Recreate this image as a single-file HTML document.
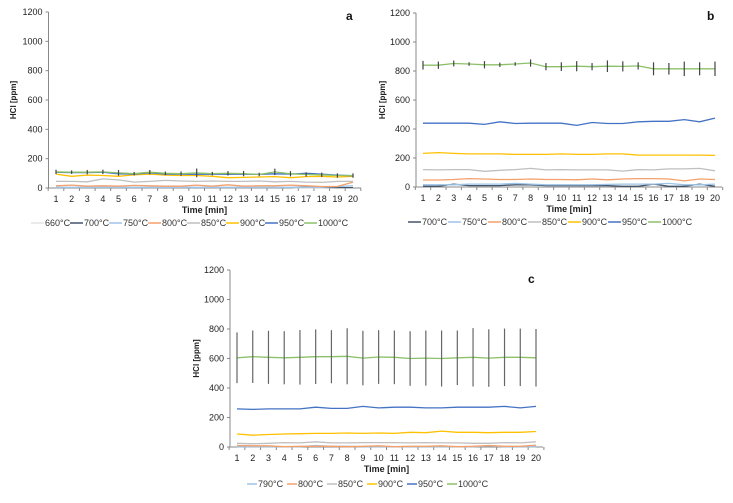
<!DOCTYPE html>
<html><head><meta charset="utf-8"><style>
body{margin:0;background:#fff;width:733px;height:498px;overflow:hidden}
svg{font-family:"Liberation Sans",sans-serif}
</style></head><body>
<svg id="svg" width="733" height="498"></svg>
<script>
const categories=[1,2,3,4,5,6,7,8,9,10,11,12,13,14,15,16,17,18,19,20];
const yTicks=[0,200,400,600,800,1000,1200];
const colors={"660°C":"#e3e3e3","700°C":"#44546a","750°C":"#9dc3e6","790°C":"#9dc3e6","800°C":"#f4a06b","850°C":"#bfbfbf","900°C":"#ffc000","950°C":"#4472c4","1000°C":"#8cc168"};
// chart a
const aNames=["660°C","700°C","750°C","800°C","850°C","900°C","950°C","1000°C"];
const a660=[2,2,2,2,2,2,2,2,2,2,2,2,2,2,2,2,2,2,2,2];
const a700=[3,3,3,3,3,3,3,3,3,3,3,3,3,3,3,3,8,5,3,3];
const a750=[5,5,5,5,5,5,5,5,5,5,5,5,5,5,5,5,5,5,10,15];
const a800=[15,20,12,15,12,18,15,12,12,20,12,22,12,15,15,20,15,10,10,40];
const a850=[45,45,42,62,55,40,45,52,48,45,48,45,45,48,42,45,40,38,45,45];
const a900=[95,80,88,85,80,90,95,88,85,85,80,70,72,75,78,70,78,80,75,80];
const a950=[108,105,105,108,97,95,103,95,95,93,95,93,95,93,97,95,100,95,88,83];
const a1000=[110,108,108,110,103,98,108,100,98,103,98,100,98,92,110,97,92,90,85,85];
const aErr=[15,12,15,15,20,12,15,12,15,30,12,15,18,12,22,18,15,15,15,15];
// chart b
const bNames=["700°C","750°C","800°C","850°C","900°C","950°C","1000°C"];
const b700=[5,5,20,10,10,10,15,15,10,10,10,10,10,5,5,20,5,5,20,5];
const b750=[15,15,15,20,20,20,25,20,15,15,15,15,18,20,20,20,25,15,15,20];
const b800=[48,48,52,58,55,52,52,55,52,52,50,55,50,55,58,58,55,42,55,52];
const b850=[120,118,120,120,108,115,120,128,118,120,118,118,118,110,120,118,125,125,128,112];
const b900=[232,237,232,228,228,228,225,225,225,228,225,225,228,228,220,220,220,220,220,218];
const b950=[440,440,440,440,432,450,438,440,440,440,425,445,438,438,450,453,453,465,450,475];
const b1000=[840,840,852,848,843,843,848,855,830,830,833,830,833,832,835,815,815,815,815,815];
const bErr=[30,25,20,12,25,15,12,25,25,30,35,25,40,35,25,45,40,50,45,50];
// chart c
const cNames=["790°C","800°C","850°C","900°C","950°C","1000°C"];
const c790=[2,2,2,2,2,10,5,5,2,2,2,2,2,2,2,2,8,2,2,2];
const c800=[10,8,8,2,5,5,5,2,5,8,2,5,5,8,2,5,10,5,5,12];
const c850=[25,22,25,30,28,35,28,28,30,30,30,28,30,28,28,25,25,30,28,35];
const c900=[88,80,85,88,90,92,92,95,92,95,92,100,97,108,100,100,97,100,100,105];
const c950=[258,255,258,258,258,270,262,262,275,265,270,270,265,265,270,270,270,275,265,275];
const c1000=[605,612,608,605,608,612,612,615,603,610,608,600,603,600,605,608,603,608,608,605];
const cErr=[172,178,180,180,185,185,180,190,185,182,182,185,187,190,185,198,195,195,195,195];

const NS="http://www.w3.org/2000/svg";
const svg=document.getElementById('svg');
function mk(t,at,p){const e=document.createElementNS(NS,t);for(const k in at)e.setAttribute(k,at[k]);(p||svg).appendChild(e);return e;}
function chart(id,cfg){
  const g=mk('g',{});
  
  
  const x0=cfg.ax,x1=cfg.axEnd,yT=cfg.yTop,yB=cfg.y0;
  const sx=i=>cfg.c1+(cfg.c20-cfg.c1)*i/19;
  const sy=v=>yB-(yB-yT)*v/1200;
  const step=(cfg.c20-cfg.c1)/19;
  mk('line',{x1:x0,y1:yT,x2:x0,y2:yB,stroke:'#888','stroke-width':1},g);
  mk('line',{x1:x0,y1:yB,x2:x1,y2:yB,stroke:'#888','stroke-width':1},g);
  yTicks.forEach(v=>{
    mk('line',{x1:x0-3,y1:sy(v),x2:x0,y2:sy(v),stroke:'#888'},g);
    const t=mk('text',{x:x0-6,y:sy(v)+3,'font-size':9,'text-anchor':'end',fill:'#222'},g);t.textContent=v;
    
    
  });
  categories.forEach((c,i)=>{
    mk('line',{x1:sx(i)-step/2,y1:yB,x2:sx(i)-step/2,y2:yB+3,stroke:'#888'},g);
    const t=mk('text',{x:sx(i),y:yB+14,'font-size':9,'text-anchor':'middle',fill:'#222'},g);t.textContent=c;
    
    
  });
  mk('line',{x1:sx(19)+step/2,y1:yB,x2:sx(19)+step/2,y2:yB+3,stroke:'#888'},g);
  const xt=mk('text',{x:(cfg.c1+cfg.c20)/2,y:yB+25,'font-size':9,'font-weight':'bold','text-anchor':'middle',fill:'#222'},g);xt.textContent='Time [min]';
  
  
  const ytt=mk('text',{x:0,y:0,'font-size':8,'font-weight':'bold','text-anchor':'middle',fill:'#222',transform:`translate(${cfg.ytx},${(yT+yB)/2}) rotate(-90)`},g);ytt.textContent='HCl [ppm]';
  
  
  const lb=mk('text',{x:cfg.lx,y:cfg.ly,'font-size':12,'font-weight':'bold',fill:'#111'},g);lb.textContent=cfg.label;
  
  
  cfg.series.forEach((s,k)=>{
    const pts=s.map((v,i)=>sx(i).toFixed(1)+','+sy(v).toFixed(1)).join(' ');
    const pl=mk('polyline',{points:pts,fill:'none',stroke:colors[cfg.names[k]],'stroke-width':1.3},g);
    
    
  });
  const top=cfg.series[cfg.series.length-1];
  cfg.err.forEach((e,i)=>{
    const l=mk('line',{x1:sx(i),y1:sy(top[i]-e),x2:sx(i),y2:sy(top[i]+e),stroke:cfg.errColor,'stroke-width':1.2},g);
    
    
  });
  let lx=cfg.legX;
  cfg.names.forEach(n=>{
    mk('line',{x1:lx,y1:cfg.legY-3,x2:lx+cfg.legLine,y2:cfg.legY-3,stroke:colors[n],'stroke-width':1.5},g);
    const t=mk('text',{x:lx+cfg.legLine+1,y:cfg.legY,'font-size':9,fill:'#333'},g);t.textContent=n;
    
    
    lx+=cfg.legStep;
  });
}
chart('chart-a',{ax:48.5,axEnd:361,yTop:12,y0:188,c1:56,c20:353,ytx:16,lx:346,ly:20,label:'a',
  series:[a660,a700,a750,a800,a850,a900,a950,a1000],names:aNames,err:aErr,errColor:'#444',legX:31,legY:226,legStep:39,legLine:13});
chart('chart-b',{ax:416,axEnd:722,yTop:13,y0:187,c1:423,c20:715,ytx:385,lx:707,ly:20,label:'b',
  series:[b700,b750,b800,b850,b900,b950,b1000],names:bNames,err:bErr,errColor:'#444',legX:408,legY:225,legStep:40,legLine:13});
chart('chart-c',{ax:230,axEnd:543,yTop:270,y0:447,c1:237,c20:536,ytx:199,lx:528,ly:283,label:'c',
  series:[c790,c800,c850,c900,c950,c1000],names:cNames,err:cErr,errColor:'#666',legX:247,legY:487,legStep:40,legLine:10});
</script>
</body></html>
